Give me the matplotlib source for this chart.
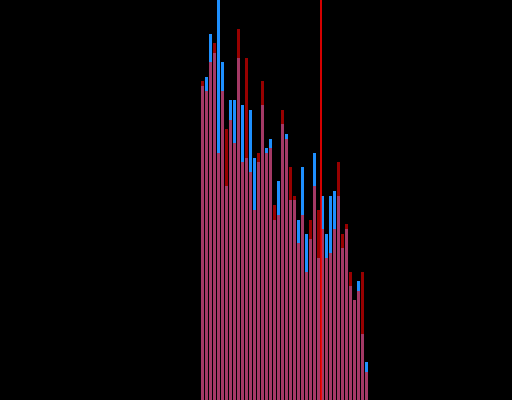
import matplotlib
matplotlib.use('Agg')
import matplotlib.pyplot as plt
import numpy as np

# two overlapping histograms, one bin per position
blue_counts = [314, 323, 366, 347, 410, 338, 214, 300, 300, 342,
               295, 242, 290, 242, 238, 295, 252, 261, 180, 219,
               276, 266, 200, 200, 180, 233, 166, 161, 247, 142,
               204, 166, 204, 209, 204, 152, 171, 114, 100, 119,
               66, 38]
red_counts = [319, 309, 338, 357, 247, 309, 271, 280, 257, 371,
              238, 342, 228, 190, 247, 319, 247, 252, 195, 185,
              290, 261, 233, 204, 157, 185, 128, 180, 214, 190,
              171, 142, 147, 171, 238, 166, 176, 128, 100, 109,
              128, 28]
marker_pos = 29.5

bins = np.arange(len(blue_counts))

fig = plt.figure(figsize=(5.12, 4.0), dpi=100, facecolor='black')
ax = fig.add_axes([0, 0, 1, 1])
ax.set_facecolor('black')

ax.bar(bins, blue_counts, width=0.75, color='#1E90FF', linewidth=0)
ax.bar(bins, red_counts, width=0.75, color='red', alpha=0.6, linewidth=0)
ax.axvline(marker_pos, color='red', linewidth=1.2)

ax.set_xlim(-50.625, 77.375)
ax.set_ylim(0, 400)
ax.axis('off')

plt.savefig('out.png', dpi=100, facecolor='black')
plt.close(fig)
